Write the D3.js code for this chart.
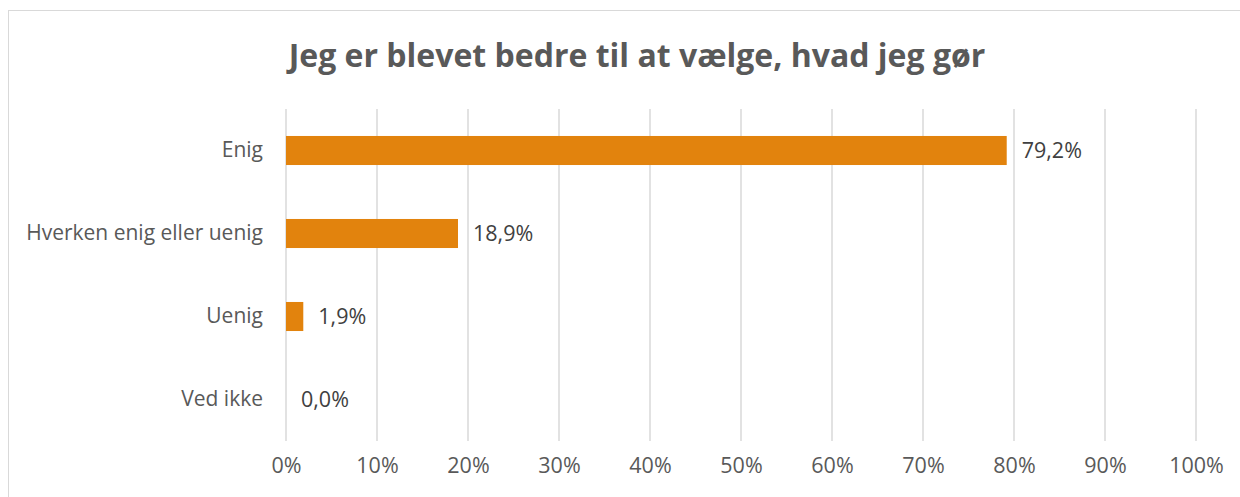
<!DOCTYPE html>
<html>
<head>
<meta charset="utf-8">
<script src="https://cdn.jsdelivr.net/npm/d3@7"></script>
<style>
  body { margin: 0; background: #fff; }
  svg { display: block; font-family: "Open Sans", Lato, sans-serif; }
</style>
</head>
<body>
<div id="chart"></div>
<script>
const title = "Jeg er blevet bedre til at vælge, hvad jeg gør";
const categories = ["Enig", "Hverken enig eller uenig", "Uenig", "Ved ikke"];
const values = [79.2, 18.9, 1.9, 0.0];
const ticks = [0, 10, 20, 30, 40, 50, 60, 70, 80, 90, 100];

const W = 1240, H = 497;
const margin = { top: 109, right: 44, bottom: 56, left: 286 };
const width = W - margin.left - margin.right;
const height = H - margin.top - margin.bottom;
const font = "'Open Sans', Lato, sans-serif";

const svg = d3.select("#chart").append("svg")
  .attr("width", W)
  .attr("height", H);

// outer chart border
svg.append("rect")
  .attr("x", 8.5).attr("y", 10.5)
  .attr("width", W).attr("height", H)
  .attr("fill", "none")
  .attr("stroke", "#d9d9d9");

svg.append("text")
  .attr("x", 637).attr("y", 67)
  .attr("text-anchor", "middle")
  .attr("font-size", 32)
  .attr("font-weight", "bold")
  .attr("fill", "#595959")
  .text(title);

const g = svg.append("g")
  .attr("transform", "translate(" + margin.left + "," + margin.top + ")");

const x = d3.scaleLinear().domain([0, 100]).range([0, width]);
const y = d3.scaleBand().domain(categories).range([0, height]).paddingInner(0.65).paddingOuter(0.325);

// gridlines
g.selectAll(".grid")
  .data(ticks)
  .enter()
  .append("line")
  .attr("class", "grid")
  .attr("x1", d => x(d)).attr("x2", d => x(d))
  .attr("y1", 0).attr("y2", height)
  .attr("stroke", "#d9d9d9")
  .attr("stroke-width", 1.5);

// x axis labels
const xAxis = g.append("g")
  .attr("transform", "translate(0," + height + ")")
  .call(d3.axisBottom(x).tickValues(ticks).tickSize(0).tickPadding(17).tickFormat(d => d + "%"));
xAxis.select(".domain").remove();
xAxis.selectAll("text")
  .attr("font-size", 21.5)
  .attr("font-family", font)
  .attr("fill", "#595959");

// y axis labels
const yAxis = g.append("g")
  .call(d3.axisLeft(y).tickSize(0).tickPadding(23));
yAxis.select(".domain").remove();
yAxis.selectAll("text")
  .attr("font-size", 21)
  .attr("font-family", font)
  .attr("fill", "#595959");

const data = categories.map((c, i) => ({ name: c, value: values[i] }));

g.selectAll(".bar")
  .data(data)
  .enter()
  .append("rect")
  .attr("class", "bar")
  .attr("x", x(0))
  .attr("y", d => y(d.name))
  .attr("width", d => x(d.value) - x(0))
  .attr("height", y.bandwidth())
  .attr("fill", "#e2830d");

g.selectAll(".val")
  .data(data)
  .enter()
  .append("text")
  .attr("class", "val")
  .attr("x", d => x(d.value) + 15)
  .attr("y", d => y(d.name) + y.bandwidth() / 2)
  .attr("dy", "0.35em")
  .attr("font-size", 21.5)
  .attr("fill", "#404040")
  .text(d => d.value.toFixed(1).replace(".", ",") + "%");
</script>
</body>
</html>
